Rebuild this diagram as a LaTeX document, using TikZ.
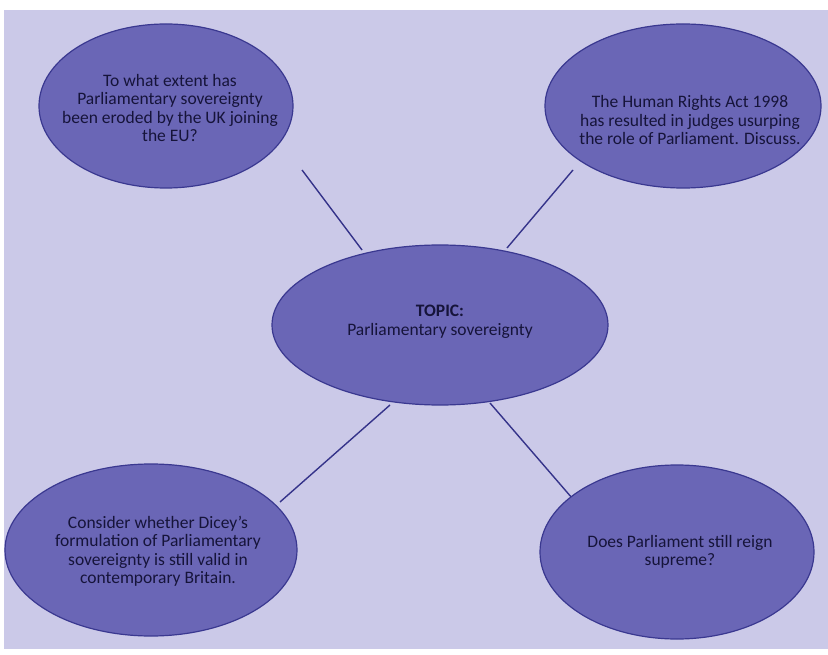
\documentclass[tikz,border=0pt]{standalone}
\usepackage{fontspec}
\setmainfont{Carlito}
\usetikzlibrary{shapes.geometric}
\definecolor{bgc}{HTML}{CBC9E8}
\definecolor{ellfill}{HTML}{6A66B6}
\definecolor{elldraw}{HTML}{3A3890}
\definecolor{txt}{HTML}{16143A}
\definecolor{linec}{HTML}{35338A}
\tikzset{
  bubble/.style={ellipse, fill=ellfill, draw=elldraw, line width=1.2pt, inner sep=0pt},
  btext/.style={text=txt, align=center, font=\fontsize{17.5}{18.5}\selectfont, inner sep=0pt},
  link/.style={draw=linec, line width=1.4pt}
}
\begin{document}
\begin{tikzpicture}[x=1pt,y=-1pt]
\useasboundingbox (0,0) rectangle (828,655);
\fill[white] (0,0) rectangle (828,655);
\fill[bgc] (4,10) rectangle (828,649);
% connectors
\coordinate (l1a) at (302,170); \coordinate (l1b) at (362,250);
\coordinate (l2a) at (573,170); \coordinate (l2b) at (507,248);
\coordinate (l3a) at (390,405); \coordinate (l3b) at (280,502);
\coordinate (l4a) at (490,403); \coordinate (l4b) at (572,498);
\draw[link] (l1a) -- (l1b);
\draw[link] (l2a) -- (l2b);
\draw[link] (l3a) -- (l3b);
\draw[link] (l4a) -- (l4b);
% ellipses
\node[bubble, minimum width=254pt, minimum height=164pt] (tl) at (166,106) {};
\node[bubble, minimum width=276pt, minimum height=164pt] (tr) at (683,106) {};
\node[bubble, minimum width=336pt, minimum height=160pt] (c) at (440,325) {};
\node[bubble, minimum width=292pt, minimum height=172pt] (bl) at (151,550) {};
\node[bubble, minimum width=274pt, minimum height=174pt] (br) at (677,552) {};
% texts
\node[btext] (tlt) at (170,108) {To what extent has\\Parliamentary sovereignty\\been eroded by the UK joining\\the EU?};
\node[btext] (trt) at (690,120) {The Human Rights Act 1998\\has resulted in judges usurping\\the role of Parliament. Discuss.};
\node[btext] (ct) at (440,322) {\textbf{TOPIC:}\\Parliamentary sovereignty};
\node[btext] (blt) at (158,551) {Consider whether Dicey's\\formulation of Parliamentary\\sovereignty is still valid in\\contemporary Britain.};
\node[btext] (brt) at (680,552) {Does Parliament still reign\\supreme?};
\end{tikzpicture}
\end{document}
